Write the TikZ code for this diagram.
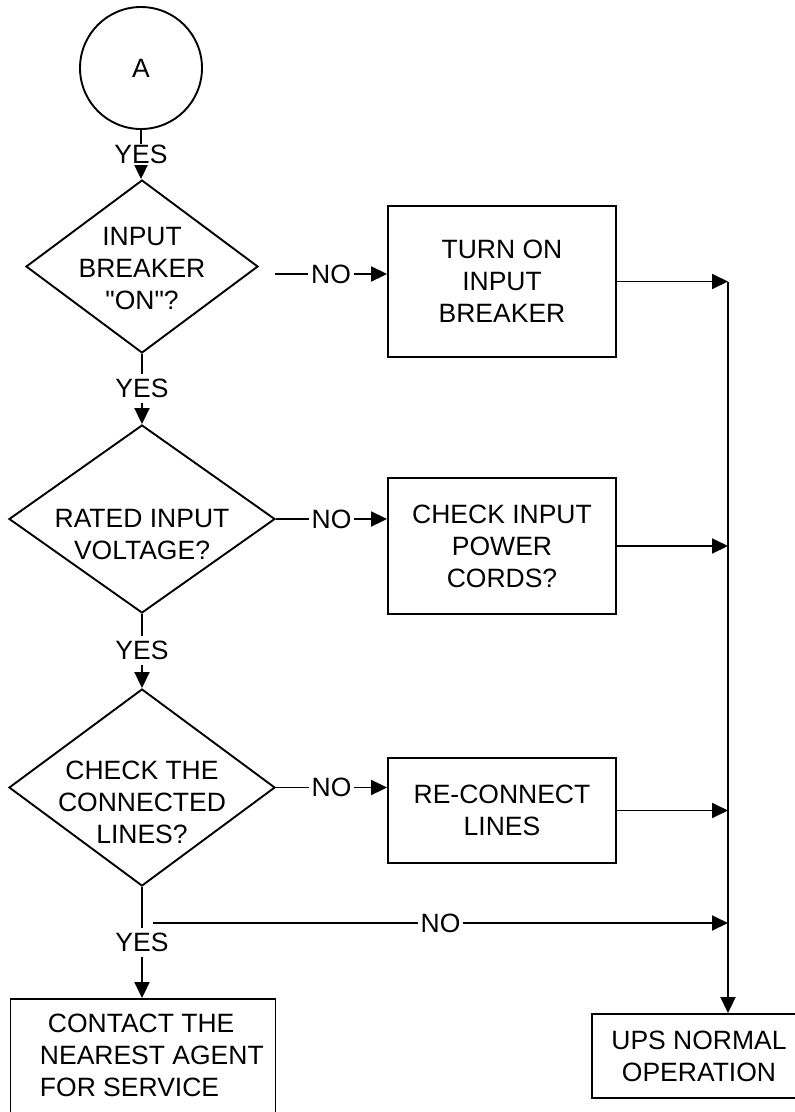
\documentclass[tikz,border=0pt]{standalone}
\usepackage{fontspec}
\newfontfamily\uifont{Liberation Sans}
\usetikzlibrary{shapes.geometric,arrows.meta}
\begin{document}
\begin{tikzpicture}[x=1pt,y=-1pt,line width=1.9pt,
  every node/.style={font=\uifont\fontsize{26.5}{32}\selectfont},
  arr/.style={-{Triangle[length=16pt,width=15pt]}},
  box/.style={draw,rectangle,inner sep=0pt,align=center},
  dia/.style={draw,diamond,inner sep=0pt},
  lbl/.style={fill=white,inner xsep=3pt,inner ysep=5pt},
  txt/.style={align=center,inner sep=0pt}]
\useasboundingbox (0,0) rectangle (795,1112);
\clip (0,0) rectangle (795,1112);
% nodes
\node[draw,circle,minimum size=122pt,inner sep=0pt] (A) at (141,68) {A};
\node[dia,minimum width=232pt,minimum height=173pt] (d1) at (142,266.5) {};
\node[txt] (d1t) at (142,269) {INPUT\\BREAKER\\"ON"?};
\node[dia,minimum width=266pt,minimum height=188pt] (d2) at (142,519) {};
\node[txt] (d2t) at (142,535) {RATED INPUT\\VOLTAGE?};
\node[dia,minimum width=266pt,minimum height=197pt] (d3) at (142,787.5) {};
\node[txt] (d3t) at (142,802) {CHECK THE\\CONNECTED\\LINES?};
\node[box,minimum width=228pt,minimum height=151pt] (b1) at (502,281.5) {TURN ON\\INPUT\\BREAKER};
\node[box,minimum width=228pt,minimum height=136pt] (b2) at (502,546) {CHECK INPUT\\POWER\\CORDS?};
\node[box,minimum width=228pt,minimum height=105pt] (b3) at (502,810.5) {RE-CONNECT\\LINES};
\node[box,minimum width=265pt,minimum height=130pt] (b4) at (143,1064) {};
\node[txt,align=left,anchor=north west] (b4t) at (39,1013.5) {\hspace*{8pt}CONTACT THE\\NEAREST AGENT\\FOR SERVICE};
\node[box,minimum width=214pt,minimum height=84pt] (ups) at (699,1056) {UPS NORMAL\\OPERATION};
% coordinates
\coordinate (vtop) at (728,281.5);
\coordinate (n1) at (275,274);
\coordinate (n4) at (153,923);
% connectors
\draw[arr] (A.south) -- node[lbl,pos=.5,inner ysep=1.5pt]{YES} (A.south |- d1.north);
\draw[arr] (d1.south) -- node[lbl,pos=.49]{YES} (d2.north);
\draw[arr] (d2.south) -- node[lbl,pos=.49]{YES} (d3.north);
\draw[arr] (d3.south) -- node[lbl,pos=.5]{YES} (d3.south |- b4.north);
\draw[arr] (n1) -- node[lbl]{NO} (n1 -| b1.west);
\draw[arr] (d2.east) -- node[lbl]{NO} (d2.east -| b2.west);
\draw[arr] (d3.east) -- node[lbl]{NO} (d3.east -| b3.west);
\draw[arr] (n4) -- node[lbl]{NO} (n4 -| vtop);
\draw[arr] (b1.east) -- (b1.east -| vtop);
\draw[arr] (b2.east) -- (b2.east -| vtop);
\draw[arr] (b3.east) -- (b3.east -| vtop);
\draw[arr] (vtop) -- (vtop |- ups.north);
\end{tikzpicture}
\end{document}
